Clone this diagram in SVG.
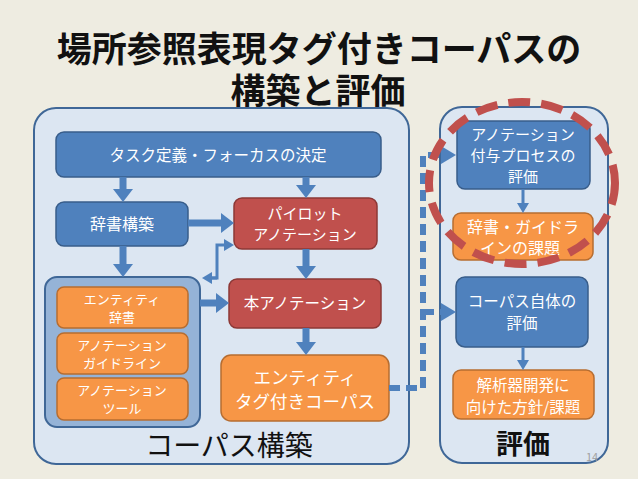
<svg xmlns="http://www.w3.org/2000/svg" width="638" height="479" viewBox="0 0 638 479">
<defs>
<style>
text{font-family:"Noto Sans CJK JP","Noto Sans",sans-serif;}
.t{fill:#fff;text-anchor:middle;}
.blue{fill:#4F81BD;stroke:#385D8A;stroke-width:1.5;}
.red{fill:#C0504D;stroke:#8C3836;stroke-width:1.5;}
.org{fill:#F79646;stroke:#B66D31;stroke-width:1.5;}
.panel{fill:#DCE6F2;stroke:#3F6797;stroke-width:2;}
.thick{stroke:#4F81BD;stroke-width:7;fill:none;}
.thin{stroke:#4F81BD;stroke-width:3;fill:none;}
.dash{stroke:#4F81BD;stroke-width:6;fill:none;stroke-dasharray:11,6;}
</style>
<marker id="ah" markerUnits="userSpaceOnUse" markerWidth="14" markerHeight="20" refX="0" refY="10" orient="auto" viewBox="0 0 14 20">
<path d="M0,0 L13,10 L0,20 z" fill="#4F81BD"/>
</marker>
<marker id="as" markerUnits="userSpaceOnUse" markerWidth="10" markerHeight="12" refX="0" refY="6" orient="auto" viewBox="0 0 10 12">
<path d="M0,0 L10,6 L0,12 z" fill="#4F81BD"/>
</marker>
<marker id="ad" markerUnits="userSpaceOnUse" markerWidth="16" markerHeight="18" refX="0" refY="9" orient="auto" viewBox="0 0 16 18">
<path d="M0,0 L15,9 L0,18 z" fill="#4F81BD"/>
</marker>
</defs>
<rect width="638" height="479" fill="#EEECE1"/>
<g id="title" fill="#111" font-weight="bold" font-size="35" text-anchor="middle">
<text x="319" y="62">場所参照表現タグ付きコーパスの</text>
<text x="318" y="104">構築と評価</text>
</g>
<g id="panel-build">
<rect class="panel" x="34" y="108" width="375" height="356" rx="22"/>
<text x="229" y="456" font-size="28" text-anchor="middle" fill="#111">コーパス構築</text>
</g>
<g id="panel-eval">
<rect class="panel" x="440" y="107" width="168" height="356" rx="22"/>
<text x="523" y="454" font-size="27" font-weight="bold" text-anchor="middle" fill="#111">評価</text>
<text x="592" y="461" font-size="11" text-anchor="middle" fill="#A0A0A0">14</text>
</g>
<g id="resources">
<rect x="45" y="277" width="155" height="150" rx="12" fill="#95B3D7" stroke="#3F6797" stroke-width="2"/>
</g>
<g id="task">
<rect class="blue" x="56" y="132" width="325" height="45" rx="8"/>
<text class="t" x="218" y="161" font-size="15.5">タスク定義・フォーカスの決定</text>
</g>
<g id="dict">
<rect class="blue" x="56" y="202" width="132" height="44" rx="8"/>
<text class="t" x="122" y="230" font-size="16">辞書構築</text>
</g>
<g id="pilot">
<rect class="red" x="234" y="198" width="143" height="51" rx="8"/>
<text class="t" x="305" y="219" font-size="15">パイロット</text>
<text class="t" x="305" y="240" font-size="15">アノテーション</text>
</g>
<g id="entity-dict">
<rect class="org" x="57" y="287" width="131" height="41" rx="7"/>
<text class="t" x="122" y="304" font-size="13">エンティティ</text>
<text class="t" x="122" y="322" font-size="13">辞書</text>
</g>
<g id="guideline">
<rect class="org" x="57" y="333" width="131" height="41" rx="7"/>
<text class="t" x="122" y="350" font-size="13">アノテーション</text>
<text class="t" x="122" y="368" font-size="13">ガイドライン</text>
</g>
<g id="tool">
<rect class="org" x="57" y="378" width="131" height="42" rx="7"/>
<text class="t" x="122" y="395" font-size="13">アノテーション</text>
<text class="t" x="122" y="413" font-size="13">ツール</text>
</g>
<g id="main-anno">
<rect class="red" x="229" y="279" width="152" height="49" rx="8"/>
<text class="t" x="305" y="309" font-size="15.5">本アノテーション</text>
</g>
<g id="corpus">
<rect class="org" x="221" y="355" width="168" height="66" rx="10"/>
<text class="t" x="305" y="384" font-size="17.5">エンティティ</text>
<text class="t" x="305" y="408" font-size="17.5">タグ付きコーパス</text>
</g>
<g id="eval-process">
<rect class="blue" x="457" y="121" width="133" height="68" rx="8"/>
<text class="t" x="523" y="140" font-size="15">アノテーション</text>
<text class="t" x="523" y="161" font-size="15">付与プロセスの</text>
<text class="t" x="523" y="182" font-size="15">評価</text>
</g>
<g id="issues-dict">
<rect class="org" x="453" y="213" width="140" height="47" rx="8"/>
<text class="t" x="523" y="233" font-size="16">辞書・ガイドラ</text>
<text class="t" x="520" y="254" font-size="16">インの課題</text>
</g>
<g id="eval-corpus">
<rect class="blue" x="456" y="277" width="132" height="70" rx="9"/>
<text class="t" x="522" y="307" font-size="15.5">コーパス自体の</text>
<text class="t" x="522" y="329" font-size="15.5">評価</text>
</g>
<g id="parser-issues">
<rect class="org" x="453" y="370" width="141" height="49" rx="8"/>
<text class="t" x="523" y="391" font-size="15.5">解析器開発に</text>
<text class="t" x="523" y="413" font-size="15.5">向けた方針/課題</text>
</g>
<g id="connectors">
<line class="thick" x1="123" y1="177" x2="123" y2="189" marker-end="url(#ah)"/>
<line class="thick" x1="306" y1="177" x2="306" y2="185" marker-end="url(#ah)"/>
<line class="thick" x1="188" y1="223" x2="221" y2="223" marker-end="url(#ah)"/>
<line class="thick" x1="123" y1="246" x2="123" y2="264" marker-end="url(#ah)"/>
<line class="thick" x1="306" y1="249" x2="306" y2="266" marker-end="url(#ah)"/>
<line class="thick" x1="200" y1="303" x2="216" y2="303" marker-end="url(#ah)"/>
<line class="thick" x1="306" y1="328" x2="306" y2="342" marker-end="url(#ah)"/>
<path class="thin" d="M212,278 H217 V245 H224" marker-end="url(#as)"/>
<path class="thin" d="M217,278 H212" marker-end="url(#as)"/>
<line class="thin" x1="523" y1="189" x2="523" y2="203" marker-end="url(#as)"/>
<line class="thin" x1="523" y1="347" x2="523" y2="360" marker-end="url(#as)"/>
<path class="dash" d="M389,388 H423 V155 H441" marker-end="url(#ad)"/>
<path class="dash" d="M423,312 H441" marker-end="url(#ad)"/>
</g>
<g id="highlight">
<ellipse cx="522" cy="183" rx="93" ry="81" fill="none" stroke="#C0504D" stroke-width="8" stroke-dasharray="22,11"/>
</g>
</svg>
